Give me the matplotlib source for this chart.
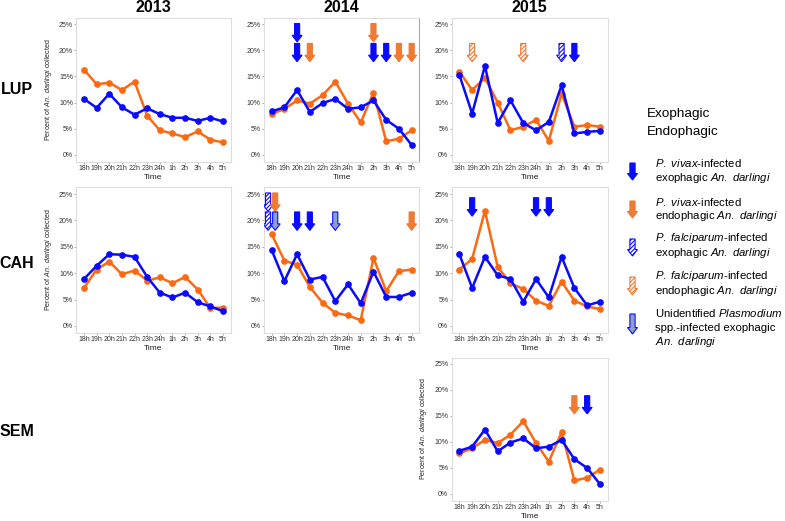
import matplotlib
matplotlib.use('Agg')
import matplotlib.pyplot as plt
from matplotlib.patches import Polygon

plt.rcParams['font.family'] = ['Liberation Sans', 'DejaVu Sans']
plt.rcParams['mathtext.fontset'] = 'custom'
plt.rcParams['mathtext.rm'] = 'Liberation Sans'
plt.rcParams['mathtext.it'] = 'Liberation Sans:italic'
plt.rcParams['hatch.linewidth'] = 0.8

# x 轴时间
times = ['18h', '19h', '20h', '21h', '22h', '23h', '24h', '1h', '2h', '3h', '4h', '5h']

# LUP
lup_2013_exo = [10.7, 9.0, 11.7, 9.1, 7.7, 8.9, 7.8, 7.1, 7.1, 6.5, 7.1, 6.4]
lup_2013_endo = [16.3, 13.5, 13.8, 12.4, 14.0, 7.5, 4.7, 4.1, 3.4, 4.5, 2.9, 2.4]
lup_2014_exo = [8.3, 9.1, 12.4, 8.2, 9.9, 10.7, 8.8, 9.1, 10.4, 6.7, 5.0, 1.9]
lup_2014_endo = [7.8, 8.8, 10.4, 9.8, 11.4, 14.0, 9.8, 6.2, 11.9, 2.6, 3.1, 4.7]
lup_2015_exo = [15.3, 7.9, 17.0, 6.1, 10.4, 6.1, 4.7, 6.3, 13.3, 4.1, 4.4, 4.6]
lup_2015_endo = [15.9, 12.4, 14.7, 10.0, 4.7, 5.4, 6.7, 2.7, 11.7, 5.4, 5.7, 5.4]

# CAH
cah_2013_exo = [8.9, 11.4, 13.6, 13.5, 13.1, 9.3, 6.3, 5.4, 6.3, 4.5, 3.7, 2.8]
cah_2013_endo = [7.2, 10.7, 12.2, 9.8, 10.5, 8.6, 9.2, 8.1, 9.3, 6.9, 3.4, 3.5]
cah_2014_exo = [14.4, 8.5, 13.6, 8.8, 9.3, 4.7, 7.9, 4.3, 10.3, 5.5, 5.5, 6.3]
cah_2014_endo = [17.4, 12.4, 11.6, 7.4, 4.4, 2.5, 2.0, 1.1, 12.9, 6.6, 10.4, 10.7]
cah_2015_exo = [13.6, 7.2, 13.1, 9.6, 8.9, 4.6, 8.9, 5.4, 13.1, 7.2, 3.9, 4.6]
cah_2015_endo = [10.7, 12.7, 21.8, 11.2, 8.1, 7.0, 4.8, 3.8, 8.4, 4.8, 3.7, 3.2]

# SEM
sem_2015_exo = [8.3, 9.1, 12.4, 8.2, 9.9, 10.7, 8.8, 9.1, 10.4, 6.7, 5.0, 1.9]
sem_2015_endo = [7.8, 8.8, 10.4, 9.8, 11.4, 14.0, 9.8, 6.2, 11.9, 2.6, 3.1, 4.7]

# 感染箭头: (时间, 偏移, 箭头顶部 %, 类型)
lup_2014_arrows = [('20h', 0, 25.1, 'vivax_exo'), ('20h', 0, 21.3, 'vivax_exo'),
                   ('21h', 0, 21.3, 'vivax_endo'), ('2h', 0, 25.1, 'vivax_endo'),
                   ('2h', 0, 21.3, 'vivax_exo'), ('3h', 0, 21.3, 'vivax_exo'),
                   ('4h', 0, 21.3, 'vivax_endo'), ('5h', 0, 21.3, 'vivax_endo')]
lup_2015_arrows = [('19h', 0, 21.3, 'falc_endo'), ('23h', 0, 21.3, 'falc_endo'),
                   ('2h', 0, 21.3, 'falc_exo'), ('3h', 0, 21.3, 'vivax_exo')]
cah_2014_arrows = [('18h', -0.28, 25.2, 'falc_exo'), ('18h', 0.28, 25.2, 'vivax_endo'),
                   ('18h', -0.28, 21.6, 'falc_exo'), ('18h', 0.28, 21.6, 'unident'),
                   ('20h', 0, 21.6, 'vivax_exo'), ('21h', 0, 21.6, 'vivax_exo'),
                   ('23h', 0, 21.6, 'unident'), ('5h', 0, 21.6, 'vivax_endo')]
cah_2015_arrows = [('19h', 0, 24.3, 'vivax_exo'), ('24h', 0, 24.3, 'vivax_exo'),
                   ('1h', 0, 24.3, 'vivax_exo')]
sem_2015_arrows = [('3h', 0, 18.9, 'vivax_endo'), ('4h', 0, 18.9, 'vivax_exo')]

legend_kinds = ['vivax_exo', 'vivax_endo', 'falc_exo', 'falc_endo', 'unident']
legend_texts = [
    [r'$\it{P.\ vivax}$-infected', r'exophagic $\it{An.\ darlingi}$'],
    [r'$\it{P.\ vivax}$-infected', r'endophagic $\it{An.\ darlingi}$'],
    [r'$\it{P.\ falciparum}$-infected', r'exophagic $\it{An.\ darlingi}$'],
    [r'$\it{P.\ falciparum}$-infected', r'endophagic $\it{An.\ darlingi}$'],
    [r'Unidentified $\it{Plasmodium}$', 'spp.-infected exophagic', r'$\it{An.\ darlingi}$'],
]

BLUE = '#0a0aff'
ORANGE = '#fb6a12'
ARROW_ORANGE = '#ee7a33'
W, H = 785, 521

styles = {
    'vivax_exo': dict(facecolor=BLUE, edgecolor=BLUE, hatch=None),
    'vivax_endo': dict(facecolor=ARROW_ORANGE, edgecolor=ARROW_ORANGE, hatch=None),
    'falc_exo': dict(facecolor='white', edgecolor=BLUE, hatch='////////'),
    'falc_endo': dict(facecolor='white', edgecolor=ARROW_ORANGE, hatch='////////'),
    'unident': dict(facecolor='#8c9fcc', edgecolor=BLUE, hatch=None),
}


def arrow_pts(x, top, sw, hw, length, hl, down=-1):
    # down=-1: 数据坐标(向下减小); down=1: 像素坐标(向下增大)
    base = top + down * (length - hl)
    tip = top + down * length
    return [(x - sw, top), (x + sw, top), (x + sw, base), (x + hw, base),
            (x, tip), (x - hw, base), (x - sw, base)]


def add_axes_px(left, right, top, bottom):
    return fig.add_axes([left / W, 1 - bottom / H, (right - left) / W, (bottom - top) / H])


fig = plt.figure(figsize=(7.85, 5.21), dpi=100)

cols = {'2013': (76.4, 230.6), '2014': (264, 419.3), '2015': (451.7, 607.6)}
rows = {'LUP': (17.5, 161.5), 'CAH': (187.4, 332.6), 'SEM': (357.5, 500.5)}

panels = [
    ('LUP', '2013', lup_2013_exo, lup_2013_endo, [], True),
    ('LUP', '2014', lup_2014_exo, lup_2014_endo, lup_2014_arrows, False),
    ('LUP', '2015', lup_2015_exo, lup_2015_endo, lup_2015_arrows, False),
    ('CAH', '2013', cah_2013_exo, cah_2013_endo, [], True),
    ('CAH', '2014', cah_2014_exo, cah_2014_endo, cah_2014_arrows, False),
    ('CAH', '2015', cah_2015_exo, cah_2015_endo, cah_2015_arrows, False),
    ('SEM', '2015', sem_2015_exo, sem_2015_endo, sem_2015_arrows, True),
]

for row, col, exo, endo, arrows, show_ylab in panels:
    l, r = cols[col]
    t, b = rows[row]
    ax = add_axes_px(l, r, t, b)
    xs = range(len(times))
    ax.plot(xs, endo, color=ORANGE, lw=1.8, marker='o', ms=3.8, zorder=3)
    ax.plot(xs, exo, color=BLUE, lw=1.8, marker='o', ms=3.8, zorder=4)
    for tm, off, top, kind in arrows:
        x = times.index(tm) + off
        p = Polygon(arrow_pts(x, top, 0.2, 0.39, 3.5, 1.25), closed=True,
                    lw=0.8, zorder=5, **styles[kind])
        ax.add_patch(p)
    ax.set_xlim(-0.6, 11.6)
    ax.set_ylim(-1.25, 26.25)
    ax.set_xticks(list(xs))
    ax.set_xticklabels(times)
    ax.set_yticks([0, 5, 10, 15, 20, 25])
    ax.set_yticklabels(['0%', '5%', '10%', '15%', '20%', '25%'])
    ax.tick_params(labelsize=5.0, length=1.6, width=0.5, pad=0.8, colors='#888888',
                   labelcolor='#333333')
    for s in ax.spines.values():
        s.set_color('#dddddd')
        s.set_linewidth(0.8)
    ax.set_xlabel('Time', fontsize=6.0, color='#222222')
    ax.xaxis.set_label_coords(0.5, -(b + 15.8 - b) / (b - t) if row != 'SEM' else -16 / (b - t))
    ax.xaxis.label.set_va('center')
    if show_ylab:
        ax.set_ylabel(r'Percent of $\it{An.\ darlingi}$ collected', fontsize=5.1,
                      color='#222222')
        ax.yaxis.set_label_coords(-0.145, 0.5)
    if row == 'LUP' and col == '2014':
        ax.spines['right'].set_color('#a8a8a8')

# 文字和图例
ov = fig.add_axes([0, 0, 1, 1])
ov.set_xlim(0, W)
ov.set_ylim(H, 0)
ov.axis('off')
ov.patch.set_visible(False)

for name, (l, r) in cols.items():
    ov.text((l + r) / 2, 8, name, ha='center', va='center', fontsize=11.5, fontweight='bold')
for name, y in [('LUP', 90), ('CAH', 263), ('SEM', 432)]:
    ov.text(17, y, name, ha='center', va='center', fontsize=11.5, fontweight='bold')

ov.text(647, 114, 'Exophagic', ha='left', va='center', fontsize=9.7)
ov.text(647, 132, 'Endophagic', ha='left', va='center', fontsize=9.7)

leg_tops = [163, 201, 239, 277, 314]
leg_lens = [17, 17, 17, 18, 20]
leg_text_y = [163, 201.5, 238, 276, 313]
for kind, top, ln, ty, lines in zip(legend_kinds, leg_tops, leg_lens, leg_text_y, legend_texts):
    p = Polygon(arrow_pts(632.5, top, 2.6, 5, ln, 6.5, down=1), closed=True, lw=0.8,
                **styles[kind])
    ov.add_patch(p)
    for i, s in enumerate(lines):
        ov.text(655, ty + i * 14.6, s, ha='left', va='center', fontsize=8.2)

fig.savefig('out.png', dpi=100)
